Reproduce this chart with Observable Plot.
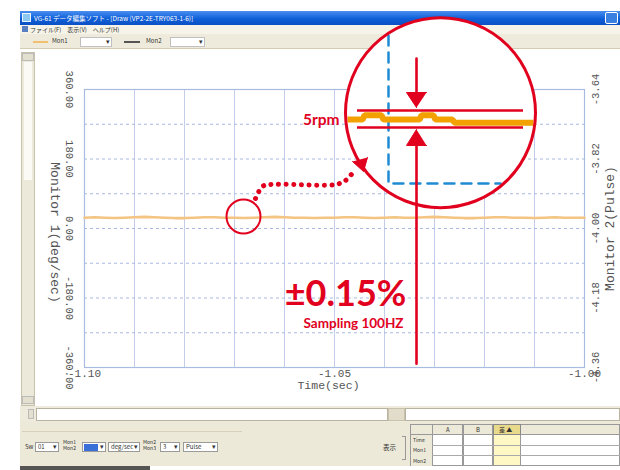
<!DOCTYPE html>
<html><head><meta charset="utf-8">
<script src="https://cdn.jsdelivr.net/npm/d3@7"></script>
<script src="https://cdn.jsdelivr.net/npm/@observablehq/plot@0.6"></script>
<style>
body{margin:0;width:620px;height:470px;overflow:hidden;background:#fff;position:relative;font-family:"Noto Sans CJK JP","Noto Sans",sans-serif}
.a{position:absolute;box-sizing:border-box;white-space:nowrap}
.sel{background:#fff;border:1px solid #9a9a9a;height:10px}
.sel::after{content:"▾";position:absolute;right:1px;top:-2px;font-size:7px;color:#333}
.tx{font-size:6px;color:#333;line-height:8px}
#chart{position:absolute;left:0;top:0}
</style></head><body>
<!-- window chrome -->
<div class="a" style="left:20px;top:11px;width:600px;height:14px;background:linear-gradient(#4a8ff0,#0f5fd8 55%,#0b50c4)"></div>
<div class="a" style="left:22px;top:13px;width:9px;height:9px;background:#8cc8f0;border:1px solid #e8f4ff"></div>
<div class="a" style="left:34px;top:12px;color:#fff;font-size:6.5px;line-height:12px">VG-61 データ編集ソフト - [Draw (VP2-2E-TRY063-1-6)]</div>
<div class="a" style="left:605px;top:12px;width:13px;height:12px;border:1px solid #fff;border-radius:2px;background:#3a80e0"></div>
<div class="a" style="left:20px;top:25px;width:600px;height:9px;background:#f6f3e8"></div>
<div class="a" style="left:22px;top:26px;width:6px;height:6px;background:#5a7fc0"></div>
<div class="a tx" style="left:30px;top:25px;font-size:6px;line-height:9px">ファイル(F)　表示(V)　ヘルプ(H)</div>
<div class="a" style="left:20px;top:34px;width:600px;height:15px;background:#efebdc;border-bottom:1px solid #d4cdb4"></div>
<div class="a" style="left:33px;top:41px;width:15px;height:1.5px;background:#f0c070"></div>
<div class="a tx" style="left:52px;top:37px">Mon1</div>
<div class="a sel" style="left:80px;top:37px;width:32px;border-color:#c0c0c0"></div>
<div class="a" style="left:124px;top:41px;width:16px;height:1.5px;background:#555"></div>
<div class="a tx" style="left:146px;top:37px">Mon2</div>
<div class="a sel" style="left:170px;top:37px;width:35px;border-color:#c0c0c0"></div>
<!-- chart area background -->
<div class="a" style="left:20px;top:49px;width:600px;height:372px;background:#fff"></div>
<div class="a" style="left:21px;top:52px;width:14px;height:354px;background:#ece9da;border:1px solid #c8c2ac"></div>
<div class="a" style="left:24px;top:62px;width:8px;height:118px;background:#fbfaf4"></div>
<div class="a" style="left:22px;top:53px;width:12px;height:8px;background:#e4e0d0;border:1px solid #bbb"></div>
<div class="a" style="left:22px;top:396px;width:12px;height:8px;background:#e4e0d0;border:1px solid #bbb"></div>
<!-- horizontal bar -->
<div class="a" style="left:20px;top:406px;width:600px;height:16px;background:#efebdc"></div>
<div class="a" style="left:36px;top:408px;width:352px;height:13px;background:#fff;border:1px solid #b8b2a0"></div>
<div class="a" style="left:388px;top:408px;width:17px;height:13px;background:#e2ddca;border:1px solid #c8c2ac"></div>
<div class="a" style="left:405px;top:408px;width:215px;height:13px;background:#fff;border:1px solid #b8b2a0"></div>
<div class="a" style="left:28px;top:409px;width:6px;height:10px;background:#e4e0d0;border:1px solid #bbb"></div>
<!-- bottom panel -->
<div class="a" style="left:20px;top:422px;width:600px;height:44px;background:#ece9d8"></div>
<div class="a" style="left:22px;top:431px;width:220px;height:1px;background:#d6d0bc"></div>
<div class="a tx" style="left:25px;top:443px">Sw</div>
<div class="a sel" style="left:35px;top:442px;width:24px"><span class="tx" style="position:absolute;left:2px;top:0">01</span></div>
<div class="a tx" style="left:63px;top:439px;line-height:6px;font-size:5px">Mon1<br>Mon2</div>
<div class="a sel" style="left:82px;top:442px;width:24px"><span style="position:absolute;left:1px;top:1px;width:14px;height:7px;background:#3a6fd8"></span></div>
<div class="a sel" style="left:108px;top:442px;width:32px"><span class="tx" style="position:absolute;left:2px;top:0">deg/sec</span></div>
<div class="a tx" style="left:143px;top:439px;line-height:6px;font-size:5px">Mon2<br>Mon3</div>
<div class="a sel" style="left:160px;top:442px;width:20px"><span class="tx" style="position:absolute;left:2px;top:0">3</span></div>
<div class="a sel" style="left:183px;top:442px;width:35px"><span class="tx" style="position:absolute;left:2px;top:0">Pulse</span></div>
<div class="a tx" style="left:383px;top:443px;font-size:6.5px">表示</div>
<div class="a" style="left:402px;top:436px;width:4px;height:24px;border:1px solid #999;border-left:none"></div>
<div class="a" style="left:410px;top:424px;width:210px;height:42px;background:#fff;border:1px solid #999"></div>
<div class="a" style="left:410px;top:424px;width:210px;height:11px;background:#ece9d8;border:1px solid #999"></div>
<div class="a" style="left:493px;top:424px;width:28px;height:42px;background:#fff7c4;border:1px solid #999"></div>
<div class="a" style="left:493px;top:424px;width:28px;height:11px;background:#e9d98a;border:1px solid #888"></div>
<div class="a" style="left:432px;top:424px;width:31px;height:42px;border:1px solid #999"></div>
<div class="a" style="left:463px;top:424px;width:30px;height:42px;border:1px solid #999"></div>
<div class="a" style="left:410px;top:445px;width:210px;height:11px;border-top:1px solid #aaa;border-bottom:1px solid #aaa"></div>
<div class="a tx" style="left:446px;top:426px">A</div>
<div class="a tx" style="left:476px;top:426px">B</div>
<div class="a tx" style="left:499px;top:426px">差 ▲</div>
<div class="a" style="left:411px;top:435px;width:21px;height:31px;background:#ece9d8"></div>
<div class="a tx" style="left:413px;top:436px;font-size:5px">Time</div>
<div class="a tx" style="left:413px;top:446px;font-size:5px">Mon1</div>
<div class="a tx" style="left:413px;top:457px;font-size:5px">Mon2</div>
<div class="a" style="left:20px;top:466px;width:130px;height:4px;background:#555"></div>
<div id="chart"></div>
<script>
// ---- data ----
const xTicks = [-1.10, -1.05, -1.00];
const xTickLabels = ["-1.10", "-1.05", "-1.00"];
const xGrid = [-1.09, -1.08, -1.07, -1.06, -1.05, -1.04, -1.03, -1.02, -1.01];
const yTicks = [360, 180, 0, -180, -360];
const yLeftLabels = ["360.00", "180.00", "0.00", "-180.00", "-360.00"];
const yRightLabels = ["-3.64", "-3.82", "-4.00", "-4.18", "-4.36"];
const yGrid = [270, 180, 90, 0, -90, -180, -270];
// Monitor 1 (deg/sec), sampled every 0.002 s from -1.10 s
const mon1 = [28, 29, 28, 27, 28, 29, 30, 29, 28, 27, 27, 28, 29, 29, 28, 28, 27, 28, 29, 30,
              29, 28, 28, 27, 28, 28, 29, 29, 28, 27, 28, 29, 28, 28, 29, 30, 29, 28, 27, 27,
              28, 29, 29, 28, 28, 27, 28, 29, 28, 28, 28];
const t0 = -1.10, dt = 0.002;
const series = mon1.map((v, i) => ({t: t0 + i * dt, v}));

// ---- annotation (in chart units) ----
const zoomCircle = [{x: -1.0288, y: 300}];
const spotCircle = [{x: -1.0682, y: 31}];
const blueDash = [{x: -1.0392, y: 500}, {x: -1.0392, y: 116.5}, {x: -1.0168, y: 116.5}];
const tolLines = [{y: 305.6}, {y: 261.6}];
const tolX = [-1.0454, -1.0122];
const stepT = [-1.0474, -1.0444, -1.0440, -1.0406, -1.0402, -1.0330, -1.0326, -1.0302, -1.0298, -1.0264, -1.0260, -1.0102];
const stepV = [282, 282, 293, 293, 282, 282, 293, 293, 282, 282, 274, 274];
const step = stepT.map((t, i) => ({t, v: stepV[i]}));
const arrowX = -1.0336;
const shafts = [
  {k: "down", x: arrowX, y: 440}, {k: "down", x: arrowX, y: 345},
  {k: "up", x: arrowX, y: 225}, {k: "up", x: arrowX, y: -350}
];
const heads = [
  {k: "a", x: -1.0336, y: 313.4}, {k: "a", x: -1.0356, y: 352.2}, {k: "a", x: -1.0316, y: 352.2},
  {k: "b", x: -1.0336, y: 256.4}, {k: "b", x: -1.0356, y: 215}, {k: "b", x: -1.0316, y: 215},
  {k: "c", x: -1.0434, y: 183.9}, {k: "c", x: -1.0442, y: 147.6}, {k: "c", x: -1.0464, y: 173.5}
];
const dotted = [
  {x: -1.0658, y: 77.7}, {x: -1.0644, y: 108.8}, {x: -1.0628, y: 114}, {x: -1.0498, y: 114},
  {x: -1.0478, y: 124.3}, {x: -1.0460, y: 150}
];
const notes = [
  {text: "5rpm", x: -1.0490, y: 280, size: 15.5, anchor: "end"},
  {text: "±0.15%", x: -1.0478, y: -169.7, size: 36, anchor: "middle"},
  {text: "Sampling 100HZ", x: -1.0462, y: -246, size: 13.5, anchor: "middle"}
];

const RED = "#e1001e", BLUE = "#1f8bd3", ORANGE = "#f2a100";
const mono = "Liberation Mono, DejaVu Sans Mono, monospace";
const sans = "Lato, Noto Sans, sans-serif";
const axisText = {fontFamily: mono, fill: "#555", textAnchor: "middle"};

const plot = Plot.plot({
  width: 620, height: 470,
  marginLeft: 84, marginRight: 36, marginTop: 89, marginBottom: 103,
  x: {domain: [-1.10, -1.00], axis: null},
  y: {domain: [-360, 360], axis: null},
  style: {background: "transparent", overflow: "visible"},
  marks: [
    Plot.ruleX(xGrid, {stroke: "#c3cdea", strokeWidth: 1}),
    Plot.ruleY(yGrid, {stroke: "#a9b8e0", strokeWidth: 1, strokeDasharray: "3,3"}),
    Plot.frame({stroke: "#a8bce2", strokeWidth: 1.2}),
    Plot.line(series, {x: "t", y: "v", stroke: "#f3c482", strokeWidth: 2.6}),
    Plot.text(yTicks, {y: d => d, text: (d, i) => yLeftLabels[i], frameAnchor: "left", dx: -15, rotate: 90, fontSize: 10.5, ...axisText}),
    Plot.text(yTicks, {y: d => d, text: (d, i) => yRightLabels[i], frameAnchor: "right", dx: 11, rotate: -90, fontSize: 10.5, ...axisText}),
    Plot.text(["Monitor 1(deg/sec)"], {frameAnchor: "left", dx: -29, dy: 4, rotate: 90, fontSize: 13, ...axisText}),
    Plot.text(["Monitor 2(Pulse)"], {frameAnchor: "right", dx: 25, rotate: -90, fontSize: 13, ...axisText}),
    Plot.text(xTicks, {x: d => d, text: (d, i) => xTickLabels[i], frameAnchor: "bottom", dy: 9, fontSize: 11, ...axisText}),
    Plot.text(["Time(sec)"], {frameAnchor: "bottom", dx: -6, dy: 21, fontSize: 11.5, ...axisText}),
    // magnifier
    Plot.dot(zoomCircle, {x: "x", y: "y", r: 95, fill: "white", stroke: "none"}),
    Plot.line(blueDash, {x: "x", y: "y", stroke: BLUE, strokeWidth: 2.5, strokeDasharray: "10,7"}),
    Plot.ruleY(tolLines, {y: "y", x1: tolX[0], x2: tolX[1], stroke: RED, strokeWidth: 2.6}),
    Plot.line(step, {x: "t", y: "v", stroke: ORANGE, strokeWidth: 6, strokeLinejoin: "miter", strokeLinecap: "butt"}),
    Plot.line(shafts, {x: "x", y: "y", z: "k", stroke: RED, strokeWidth: 2.6}),
    Plot.line(heads, {x: "x", y: "y", z: "k", fill: RED, stroke: RED, strokeWidth: 1}),
    Plot.dot(zoomCircle, {x: "x", y: "y", r: 95, fill: "none", stroke: RED, strokeWidth: 3}),
    Plot.dot(spotCircle, {x: "x", y: "y", r: 17, fill: "none", stroke: RED, strokeWidth: 2}),
    Plot.line(dotted, {x: "x", y: "y", stroke: RED, strokeWidth: 5, strokeDasharray: "0.1,7.5", strokeLinecap: "round", curve: "catmull-rom"}),
    ...notes.map(n => Plot.text([n], {x: "x", y: "y", text: "text", fontSize: n.size, textAnchor: n.anchor, fill: RED, fontWeight: "bold", fontFamily: sans}))
  ]
});
document.getElementById("chart").appendChild(plot);
</script>
</body></html>
